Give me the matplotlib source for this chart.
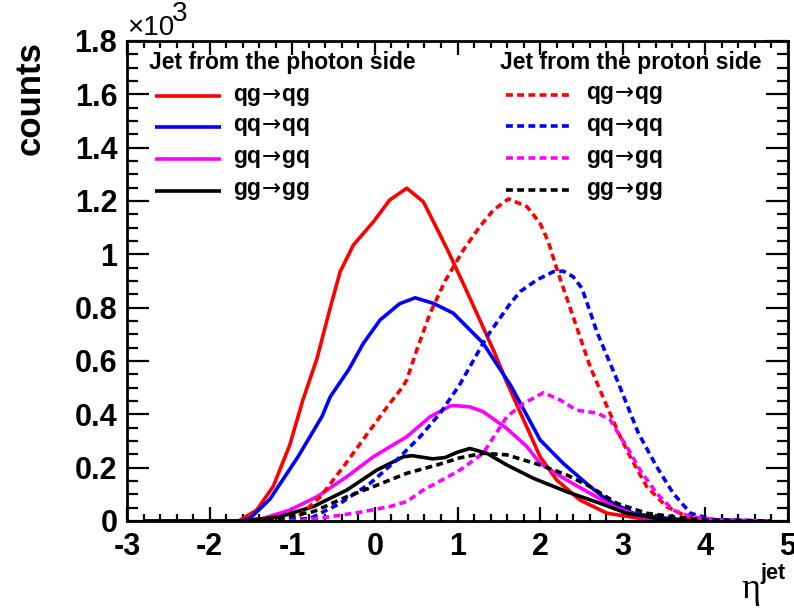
import matplotlib
matplotlib.use('Agg')
import matplotlib.pyplot as plt
from matplotlib.lines import Line2D
from matplotlib.ticker import MultipleLocator

# eta of the jet vs counts
qg_photon_x = [-2.8, -1.65, -1.43, -1.23, -1.03, -0.87, -0.70, -0.54, -0.42, -0.26, -0.018, 0.18, 0.386, 0.587, 0.75, 0.89, 1.1, 1.27, 1.45, 1.597, 1.8, 2.0, 2.2, 2.48, 2.81, 3.21, 3.6, 4.4]
qg_photon_y = [0, 0, 41, 130, 285, 455, 610, 800, 935, 1035, 1122, 1204, 1248, 1197, 1097, 1010, 870, 754, 630, 520, 379, 241, 154, 79, 29, 10, 2, 0]

qq_photon_x = [-2.8, -1.62, -1.51, -1.27, -0.93, -0.64, -0.54, -0.32, -0.14, 0.063, 0.3, 0.487, 0.71, 0.95, 1.31, 1.65, 2.0, 2.28, 2.605, 2.81, 3.13, 3.41, 3.8, 4.8]
qq_photon_y = [0, 0, 10, 82, 241, 392, 466, 566, 666, 754, 815, 837, 816, 779, 667, 505, 304, 216, 129, 79, 29, 14, 3, 0]

gq_photon_x = [-2.8, -1.6, -1.35, -1.03, -0.70, -0.34, -0.018, 0.386, 0.668, 0.91, 0.95, 1.15, 1.31, 1.597, 1.84, 2.0, 2.32, 2.605, 2.89, 3.21, 3.6, 4.8]
gq_photon_y = [0, 0, 10, 41, 91, 166, 241, 316, 391, 431, 433, 428, 410, 347, 279, 216, 154, 104, 54, 16, 3, 0]

gg_photon_x = [-2.8, -1.6, -1.15, -0.745, -0.34, 0.023, 0.345, 0.45, 0.7, 0.85, 1.0, 1.15, 1.355, 1.597, 1.92, 2.32, 2.73, 3.05, 3.41, 3.8, 4.8]
gg_photon_y = [0, 0, 16, 54, 116, 191, 241, 245, 233, 238, 258, 272, 254, 210, 160, 110, 66, 29, 10, 2, 0]

qg_proton_x = [-2.8, -1.6, -0.946, -0.66, -0.38, -0.058, 0.18, 0.325, 0.386, 0.507, 0.668, 0.85, 1.07, 1.27, 1.435, 1.617, 1.84, 2.0, 2.1, 2.2, 2.4, 2.605, 2.81, 2.97, 3.09, 3.29, 3.53, 3.78, 4.2, 4.8]
qg_proton_y = [0, 0, 10, 91, 204, 341, 441, 498, 529, 641, 779, 900, 1016, 1104, 1166, 1208, 1179, 1116, 1047, 947, 766, 579, 429, 316, 241, 129, 54, 16, 2, 0]

qq_proton_x = [-2.8, -1.2, -0.78, -0.42, -0.058, 0.265, 0.547, 0.79, 1.03, 1.355, 1.64, 1.758, 1.96, 2.16, 2.28, 2.4, 2.505, 2.605, 2.686, 2.93, 3.19, 3.41, 3.61, 3.82, 4.1, 4.8]
qq_proton_y = [0, 0, 10, 66, 141, 229, 316, 404, 513, 691, 816, 860, 904, 935, 937, 916, 873, 785, 710, 530, 329, 204, 104, 29, 5, 0]

gq_proton_x = [-2.8, -0.946, -0.54, -0.14, 0.18, 0.386, 0.587, 0.79, 1.03, 1.31, 1.597, 1.8, 2.04, 2.24, 2.44, 2.7, 2.85, 2.97, 3.05, 3.21, 3.41, 3.61, 3.82, 4.2, 4.8]
gq_proton_y = [0, 0, 16, 35, 54, 73, 116, 150, 191, 254, 391, 441, 481, 454, 416, 404, 379, 316, 279, 191, 104, 41, 16, 3, 0]

gg_proton_x = [-2.8, -1.6, -1.15, -0.745, -0.34, -0.018, 0.386, 0.75, 1.03, 1.31, 1.597, 2.0, 2.32, 2.605, 2.93, 3.29, 3.61, 4.0, 4.8]
gg_proton_y = [0, 0, 10, 35, 91, 129, 179, 210, 237, 254, 248, 210, 173, 129, 66, 29, 16, 3, 0]

labels = [r'qg$\!\rightarrow\!$qg', r'qq$\!\rightarrow\!$qq', r'gq$\!\rightarrow\!$gq', r'gg$\!\rightarrow\!$gg']
colors = ['#ff0000', '#0000ff', '#ff00ff', '#000000']
ytick_labels = ['0', '0.2', '0.4', '0.6', '0.8', '1', '1.2', '1.4', '1.6', '1.8']

W, H = 794, 608
def fx(px):
    return px / W
def fy(py):
    return 1 - py / H

font = ['Liberation Sans', 'DejaVu Sans']
plt.rcParams['font.family'] = font

fig = plt.figure(figsize=(7.94, 6.08), dpi=100)
ax = fig.add_axes([fx(127), fy(521), fx(788) - fx(127), fy(41) - fy(521)])

solid = dict(lw=2.6, solid_capstyle='butt')
dotted = dict(lw=2.6, linestyle=(0, (1.9, 1.2)), dash_capstyle='butt')

photon = [(qg_photon_x, qg_photon_y), (qq_photon_x, qq_photon_y), (gq_photon_x, gq_photon_y), (gg_photon_x, gg_photon_y)]
proton = [(qg_proton_x, qg_proton_y), (qq_proton_x, qq_proton_y), (gq_proton_x, gq_proton_y), (gg_proton_x, gg_proton_y)]

for (x, y), c in zip(photon, colors):
    ax.plot(x, y, color=c, **solid)
for (x, y), c in zip(proton, colors):
    ax.plot(x, y, color=c, **dotted)

ax.set_xlim(-3, 5)
ax.set_ylim(0, 1800)
ax.xaxis.set_minor_locator(MultipleLocator(0.2))
ax.yaxis.set_minor_locator(MultipleLocator(50))
ax.tick_params(which='both', direction='in', top=True, right=True, width=1.6)
ax.tick_params(axis='x', which='major', length=10, pad=8, labelsize=22)
ax.tick_params(axis='x', which='minor', length=5)
ax.tick_params(axis='y', which='major', length=16, pad=7, labelsize=22)
ax.tick_params(axis='y', which='minor', length=8)
for s in ax.spines.values():
    s.set_linewidth(2)

ax.set_xticks(range(-3, 6))
ax.set_xticklabels([str(v) for v in range(-3, 6)], fontweight='bold')
ax.set_yticks([i * 200 for i in range(10)])
ax.set_yticklabels(ytick_labels, fontweight='bold')

# x10^3 multiplier
fig.text(fx(127), fy(28), '\u00d710', fontsize=20, va='center', ha='left', family=font)
fig.text(fx(172), fy(14), '3', fontsize=20, va='center', ha='left')

fig.text(fx(30), fy(98), 'counts', fontsize=25, fontweight='bold', rotation=90, ha='center', va='center')
fig.text(fx(751), fy(590), '\u03b7', fontsize=26, family=['Liberation Serif', 'DejaVu Serif'], ha='center', va='center')
fig.text(fx(773), fy(573), 'jet', fontsize=15.5, fontweight='bold', ha='center', va='center')

# legends
fig.text(fx(149), fy(63), 'Jet from the photon side', fontsize=16.5, fontweight='bold', va='center')
fig.text(fx(500), fy(62), 'Jet from the proton side', fontsize=16.5, fontweight='bold', va='center')
rows = [96, 127, 159, 191]
for lab, c, py in zip(labels, colors, rows):
    fig.add_artist(Line2D([fx(155), fx(221)], [fy(py), fy(py)], color=c, transform=fig.transFigure, **solid))
    fig.text(fx(233), fy(py), lab, fontsize=16.5, fontweight='bold', va='center')
    fig.add_artist(Line2D([fx(506), fx(571)], [fy(py - 1), fy(py - 1)], color=c, transform=fig.transFigure, **dotted))
    fig.text(fx(586), fy(py - 1), lab, fontsize=16.5, fontweight='bold', va='center')

fig.savefig('out.png', dpi=100)
